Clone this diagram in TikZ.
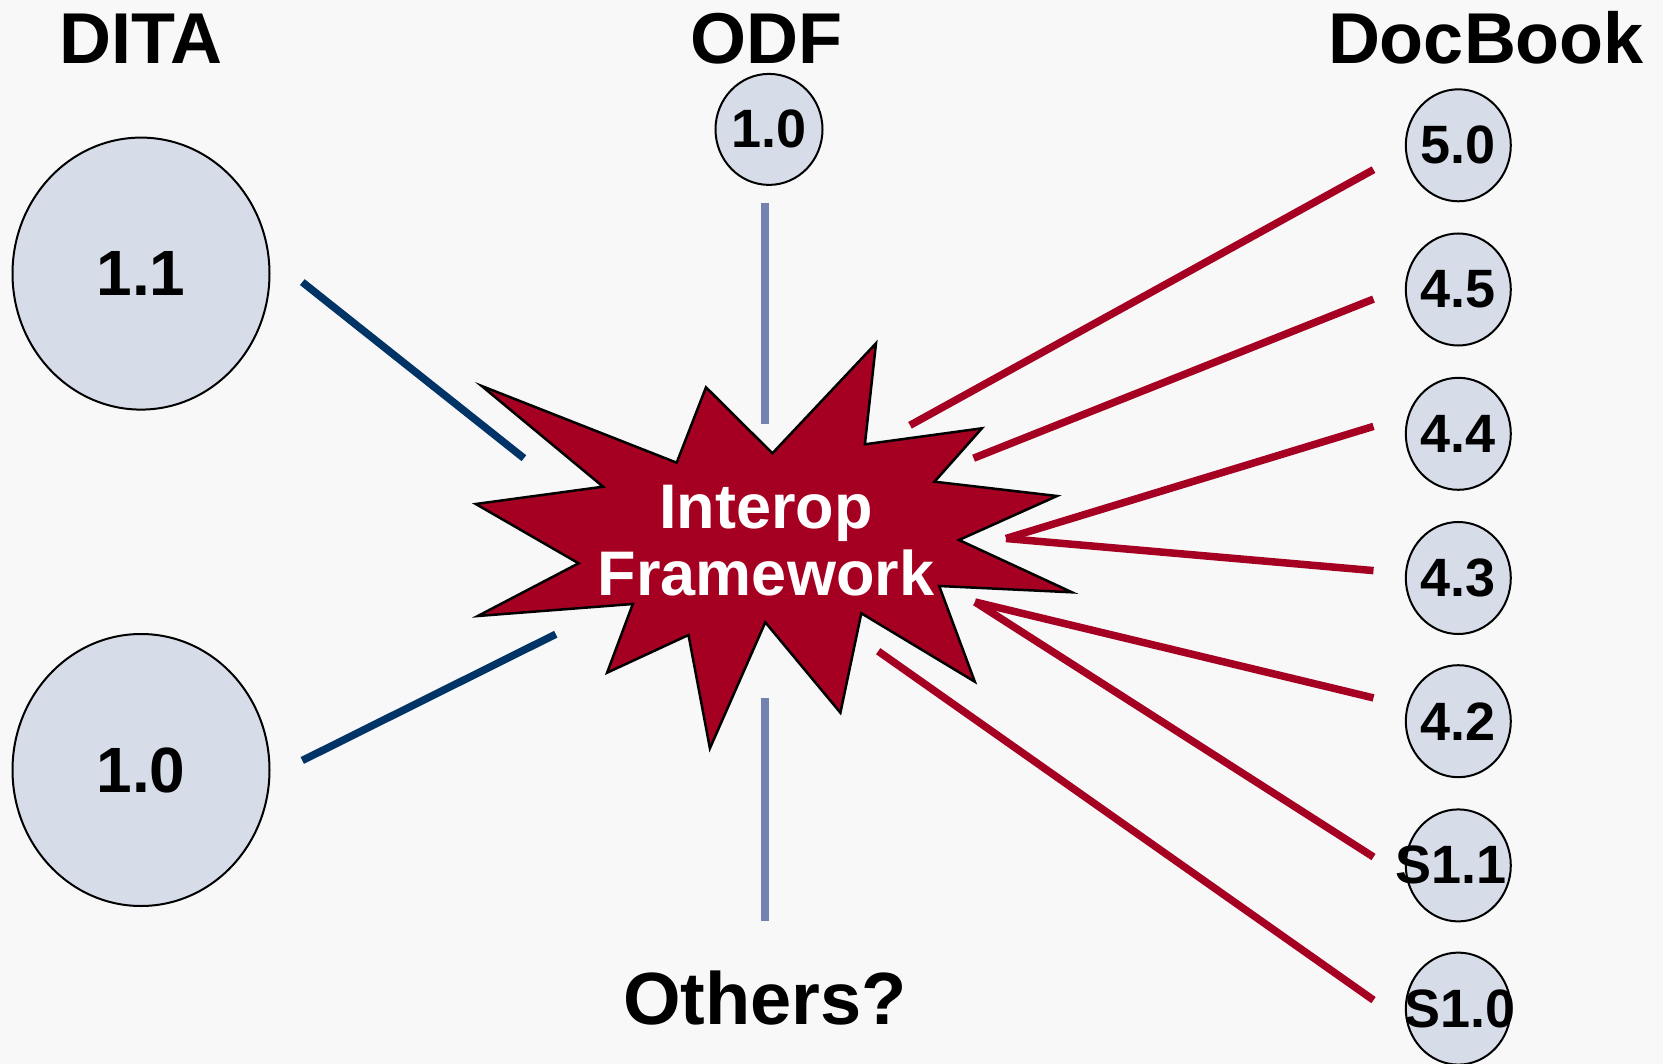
\documentclass[tikz,border=0pt]{standalone}
\usepackage{fontspec}
\setmainfont{Liberation Sans}
\usetikzlibrary{shapes.geometric}
\definecolor{bgc}{RGB}{248,248,248}
\definecolor{verfill}{RGB}{214,220,232}
\definecolor{hubred}{RGB}{165,0,33}
\definecolor{ditaline}{RGB}{0,51,102}
\definecolor{odfline}{RGB}{115,130,175}
\tikzset{
  verc/.style={ellipse,draw=black,line width=2pt,fill=verfill,inner sep=0pt},
  bigver/.style={verc,minimum width=257pt,minimum height=272pt},
  smallver/.style={verc,minimum width=105pt,minimum height=112pt},
  bignum/.style={font=\bfseries\fontsize{64}{68}\selectfont,inner sep=0pt},
  smallnum/.style={font=\bfseries\fontsize{54}{58}\selectfont,inner sep=0pt},
  header/.style={font=\bfseries\fontsize{72}{80}\selectfont,anchor=base,inner sep=0pt},
  ditalink/.style={draw=ditaline,line width=7.5pt},
  odflink/.style={draw=odfline,line width=7.5pt},
  dblink/.style={draw=hubred,line width=7.5pt},
}
\begin{document}
\begin{tikzpicture}[x=1pt,y=-1pt]
  % canvas
  \fill[bgc] (0,0) rectangle (1663,1064);
  \useasboundingbox (0,0) rectangle (1663,1064);

  % column headings
  \node[header] (hdita) at (141,63.5) {DITA};
  \node[header] (hodf) at (766,63.5) {ODF};
  \node[header] (hdb) at (1486,63.5) {DocBook};
  \node[header,font=\bfseries\fontsize{74}{80}\selectfont] (hother) at (765,1024.5) {Others?};

  % DITA versions
  \node[bigver] (dita11) at (141,273.6) {};
  \node[bignum] at (dita11) {1.1};
  \node[bigver] (dita10) at (141,770) {};
  \node[bignum] at (dita10) {1.0};

  % ODF version
  \node[smallver,minimum width=107pt,minimum height=111pt] (odf10) at (769,129.4) {};
  \node[smallnum] at (odf10) {1.0};

  % DocBook versions
  \node[smallver] (db50) at (1458.3,145.3) {};
  \node[smallnum] at (db50) {5.0};
  \node[smallver] (db45) at (1458.3,289.5) {};
  \node[smallnum] at (db45) {4.5};
  \node[smallver] (db44) at (1458.3,433.8) {};
  \node[smallnum] at (db44) {4.4};
  \node[smallver] (db43) at (1458.3,578) {};
  \node[smallnum] at (db43) {4.3};
  \node[smallver] (db42) at (1458.3,721.2) {};
  \node[smallnum] at (db42) {4.2};
  \node[smallver] (dbs11) at (1458.3,865.4) {};
  \node[smallnum] at ([xshift=-7pt]dbs11.center) {S1.1};
  \node[smallver] (dbs10) at (1458.3,1008.6) {};
  \node[smallnum] at ([xshift=2pt]dbs10.center) {S1.0};

  % burst
  \draw[fill=hubred,draw=black,line width=2.5pt,line join=miter]
    (481.7,386) -- (676.7,462.7) -- (706,387.3) -- (772.4,453.3)
    -- (876,343.3) -- (864.9,444.3) -- (981.9,428.3) -- (934.5,481.7)
    -- (1057,496) -- (959,540) -- (1072,592.3) -- (939.2,586)
    -- (974.8,681.7) -- (861.3,613.3) -- (840.4,712.7) -- (765.3,622.3)
    -- (709.9,748.3) -- (688.5,635) -- (607.1,672.7) -- (632.8,604)
    -- (477.8,616) -- (578.6,563.3) -- (475.8,504) -- (603.1,486.7) -- cycle;
  \node[text=white,font=\bfseries\fontsize{63}{67}\selectfont,align=center,inner sep=0pt]
    (hub) at (766,541) {Interop\\Framework};

  % connector ends
  \coordinate (d11a) at (302.3,282.1);   \coordinate (d11b) at (523.9,458.2);
  \coordinate (d10a) at (302.3,760.5);   \coordinate (d10b) at (555.8,634.2);
  \coordinate (odfa) at (765,202.6);     \coordinate (odfb) at (765,424.2);
  \coordinate (otha) at (765,697.9);     \coordinate (othb) at (765,920.6);
  \coordinate (h50) at (910,425.3);      \coordinate (e50) at (1373.5,169.7);
  \coordinate (h45) at (973.6,458.2);    \coordinate (e45) at (1373.5,299.1);
  \coordinate (h44) at (1006,538.5);     \coordinate (e44) at (1373.5,426.4);
  \coordinate (e43) at (1373.5,570.6);
  \coordinate (h42) at (975,602);        \coordinate (e42) at (1373.5,697.9);
  \coordinate (es11) at (1373.5,857);
  \coordinate (hs10) at (878.2,651.2);   \coordinate (es10) at (1373.5,1000.1);

  % connectors
  \draw[ditalink] (d11a) -- (d11b);
  \draw[ditalink] (d10a) -- (d10b);
  \draw[odflink] (odfa) -- (odfb);
  \draw[odflink] (otha) -- (othb);
  \draw[dblink] (h50) -- (e50);
  \draw[dblink] (h45) -- (e45);
  \draw[dblink] (h44) -- (e44);
  \draw[dblink] (h44) -- (e43);
  \draw[dblink] (h42) -- (e42);
  \draw[dblink] (h42) -- (es11);
  \draw[dblink] (hs10) -- (es10);
\end{tikzpicture}
\end{document}
